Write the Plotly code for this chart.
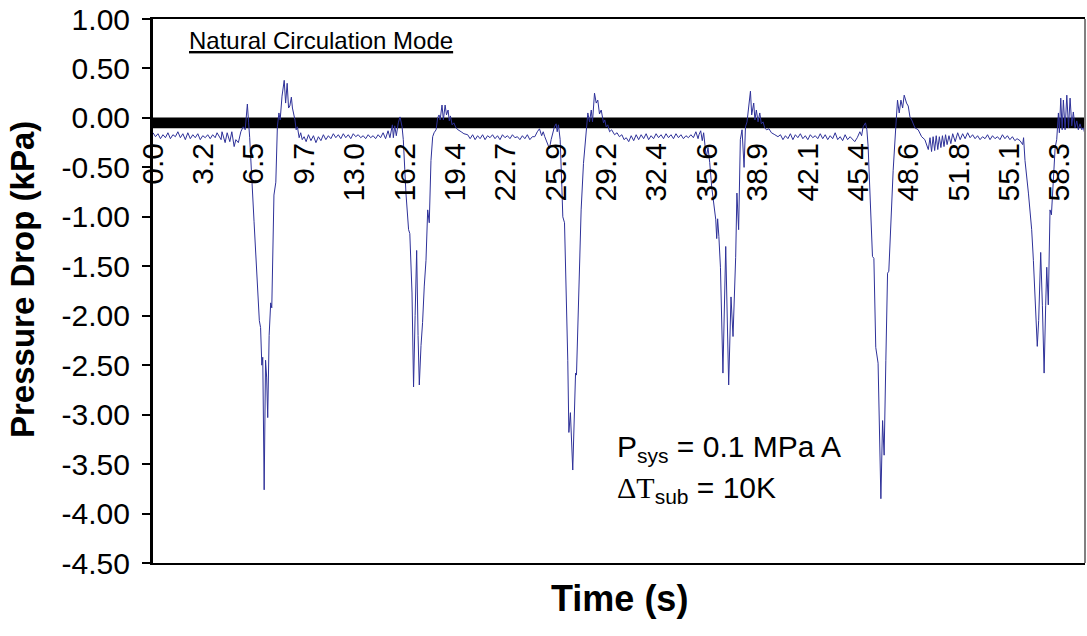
import plotly.graph_objects as go

# ---- data (time in s, pressure drop in kPa) ----
t_part1 = [0.00, 0.16, 0.32, 0.48, 0.64, 0.80, 0.96, 1.12, 1.28, 1.44, 1.60, 1.76, 1.92, 2.08, 2.24, 2.40,
           2.56, 2.72, 2.88, 3.04, 3.20, 3.36, 3.52, 3.68, 3.84, 4.00, 4.12, 4.25, 4.38, 4.44, 4.64, 4.77,
           4.94, 5.07, 5.22, 5.33, 5.49, 5.65, 5.80, 5.93, 6.01, 6.07, 6.15, 6.22, 6.50, 6.72, 6.84, 6.92,
           7.00, 7.06, 7.15, 7.24, 7.31, 7.38, 7.47, 7.57, 7.64, 7.78, 7.90, 8.00, 8.10, 8.18, 8.30, 8.44,
           8.53, 8.63, 8.72, 8.80, 8.90, 8.97, 9.05, 9.13, 9.21, 9.29, 9.40, 9.50, 9.60, 9.72]
dp_part1 = [-0.15, -0.19, -0.16, -0.21, -0.17, -0.20, -0.15, -0.21, -0.17, -0.19, -0.14, -0.20, -0.16, -0.22, -0.15, -0.21,
            -0.17, -0.20, -0.16, -0.22, -0.18, -0.20, -0.17, -0.21, -0.17, -0.20, -0.15, -0.18, -0.22, -0.14, -0.25, -0.15,
            -0.24, -0.14, -0.29, -0.22, -0.25, -0.14, -0.09, -0.12, -0.01, 0.14, -0.05, -0.20, -1.05, -1.74, -2.05, -2.12,
            -2.50, -2.42, -3.76, -2.45, -2.62, -3.03, -2.20, -1.87, -1.92, -0.78, -0.65, -0.09, 0.05, -0.02, 0.22, 0.38,
            0.15, 0.35, 0.10, 0.12, 0.21, 0.10, 0.05, -0.02, -0.12, -0.09, -0.20, -0.15, -0.22, -0.19]

t_part2 = [9.85, 10.00, 10.16, 10.32, 10.48, 10.64, 10.80, 10.96, 11.12, 11.28, 11.44, 11.60, 11.76, 11.92, 12.08, 12.24,
           12.40, 12.56, 12.72, 12.88, 13.04, 13.20, 13.36, 13.52, 13.68, 13.84, 14.00, 14.16, 14.32, 14.48, 14.64, 14.80,
           14.96, 15.12, 15.24, 15.31, 15.40, 15.46, 15.55, 15.65, 15.78, 15.89, 15.96, 16.02, 16.10, 16.27, 16.44, 16.52,
           16.66, 16.76, 16.86, 16.96, 17.05, 17.13, 17.24, 17.34, 17.45, 17.56, 17.67, 17.77, 17.88, 17.99, 18.08, 18.21,
           18.31, 18.40, 18.47, 18.59, 18.68, 18.79, 18.88, 18.98, 19.06, 19.13, 19.24, 19.35, 19.49, 19.62, 19.82, 20.00,
           20.24]
dp_part2 = [-0.24, -0.17, -0.23, -0.18, -0.25, -0.19, -0.23, -0.17, -0.22, -0.18, -0.21, -0.16, -0.20, -0.17, -0.21, -0.16,
            -0.20, -0.17, -0.21, -0.16, -0.19, -0.17, -0.20, -0.18, -0.21, -0.17, -0.20, -0.18, -0.21, -0.17, -0.20, -0.15,
            -0.21, -0.13, -0.20, -0.12, -0.07, -0.20, -0.08, -0.18, -0.05, 0.01, -0.05, -0.09, -0.22, -0.76, -1.13, -1.17,
            -1.77, -2.72, -2.00, -1.34, -2.20, -2.70, -2.30, -2.07, -1.70, -1.44, -0.93, -1.06, -0.43, -0.19, -0.15, -0.12,
            0.00, 0.03, -0.02, 0.13, -0.02, 0.13, 0.03, 0.08, -0.03, 0.02, -0.07, -0.05, -0.10, -0.12, -0.14, -0.16,
            -0.17]

t_part3 = [20.40, 20.56, 20.72, 20.88, 21.04, 21.20, 21.36, 21.52, 21.68, 21.84, 22.00, 22.16, 22.32, 22.48, 22.64, 22.80,
           22.96, 23.12, 23.28, 23.44, 23.60, 23.76, 23.92, 24.08, 24.24, 24.40, 24.56, 24.72, 24.86, 25.00, 25.10, 25.20,
           25.36, 25.50, 25.61, 25.72, 25.82, 25.93, 26.00, 26.08, 26.19, 26.30, 26.36, 26.47, 26.58, 26.68, 26.75, 26.85,
           27.00, 27.11, 27.18, 27.24, 27.39, 27.54, 27.69, 27.87, 27.97, 28.08, 28.19, 28.27, 28.40, 28.51, 28.61, 28.72,
           28.83, 28.98, 29.06, 29.15, 29.25, 29.37, 29.50, 29.69, 29.85, 30.00, 30.16, 30.30, 30.44]
dp_part3 = [-0.21, -0.17, -0.22, -0.18, -0.21, -0.17, -0.22, -0.18, -0.20, -0.17, -0.21, -0.18, -0.22, -0.17, -0.20, -0.18,
            -0.21, -0.17, -0.20, -0.19, -0.22, -0.18, -0.21, -0.17, -0.22, -0.19, -0.19, -0.14, -0.11, -0.18, -0.14, -0.19,
            -0.25, -0.31, -0.22, -0.15, -0.09, -0.06, -0.14, -0.07, -0.22, -0.70, -1.00, -1.06, -1.77, -2.45, -3.18, -2.98,
            -3.56, -2.95, -2.58, -2.60, -1.61, -0.93, -0.46, -0.09, 0.05, -0.04, 0.08, -0.04, 0.25, 0.15, 0.18, 0.04,
            0.08, -0.05, -0.02, -0.09, -0.07, -0.14, -0.12, -0.17, -0.15, -0.19, -0.17, -0.22, -0.20]

t_part4 = [30.60, 30.76, 30.92, 31.08, 31.24, 31.40, 31.56, 31.72, 31.88, 32.04, 32.20, 32.36, 32.52, 32.68, 32.84, 33.00,
           33.16, 33.32, 33.48, 33.64, 33.80, 33.96, 34.12, 34.28, 34.44, 34.60, 34.76, 34.92, 35.06, 35.12, 35.23, 35.33,
           35.42, 35.52, 35.59, 35.70, 35.81, 35.94, 36.05, 36.13, 36.20, 36.26, 36.32, 36.40, 36.50, 36.66, 36.84, 37.03,
           37.18, 37.31, 37.48, 37.56, 37.67, 37.78, 37.89, 38.02, 38.11, 38.21, 38.30, 38.43, 38.51, 38.64, 38.72, 38.81,
           38.92, 39.03, 39.13, 39.24, 39.35, 39.46, 39.62, 39.78, 40.00, 40.20]
dp_part4 = [-0.24, -0.18, -0.23, -0.17, -0.22, -0.17, -0.21, -0.16, -0.22, -0.18, -0.21, -0.16, -0.20, -0.17, -0.21, -0.16,
            -0.20, -0.17, -0.21, -0.16, -0.20, -0.17, -0.21, -0.18, -0.20, -0.17, -0.20, -0.14, -0.21, -0.17, -0.13, -0.23,
            -0.15, -0.30, -0.40, -0.30, -0.45, -0.70, -0.85, -0.93, -1.03, -1.22, -1.02, -1.20, -1.51, -2.58, -1.30, -2.70,
            -1.81, -2.21, -1.41, -0.76, -1.13, -0.22, -0.12, -0.50, -0.09, -0.04, 0.10, 0.27, 0.03, 0.15, -0.02, 0.08,
            -0.04, 0.05, -0.06, -0.04, -0.10, -0.12, -0.11, -0.15, -0.17, -0.19]

t_part5 = [40.36, 40.52, 40.68, 40.84, 41.00, 41.16, 41.32, 41.48, 41.64, 41.80, 41.96, 42.12, 42.28, 42.44, 42.60, 42.76,
           42.92, 43.08, 43.24, 43.40, 43.56, 43.72, 43.88, 44.04, 44.20, 44.36, 44.52, 44.68, 44.84, 45.00, 45.14, 45.30,
           45.47, 45.58, 45.68, 45.83, 45.92, 46.00, 46.16, 46.28, 46.37, 46.49, 46.64, 46.75, 46.82, 46.93, 47.03, 47.14,
           47.25, 47.33, 47.51, 47.61, 47.78, 47.89, 48.00, 48.11, 48.22, 48.32, 48.47, 48.58, 48.69, 48.80, 49.01, 49.22,
           49.44, 49.65, 49.87]
dp_part5 = [-0.17, -0.22, -0.18, -0.21, -0.16, -0.22, -0.17, -0.20, -0.16, -0.21, -0.18, -0.22, -0.17, -0.20, -0.18, -0.21,
            -0.16, -0.21, -0.17, -0.22, -0.18, -0.21, -0.15, -0.22, -0.19, -0.23, -0.17, -0.22, -0.19, -0.22, -0.24, -0.20,
            -0.14, -0.18, -0.09, -0.05, -0.12, -0.29, -0.93, -1.40, -1.42, -2.32, -2.48, -3.46, -3.85, -3.06, -3.41, -2.45,
            -1.57, -1.55, -0.83, -0.53, -0.09, 0.18, 0.05, 0.18, 0.10, 0.23, 0.15, 0.12, 0.01, -0.02, -0.10, -0.12,
            -0.19, -0.22, -0.32]

t_part6 = [49.98, 50.08, 50.18, 50.28, 50.38, 50.48, 50.58, 50.68, 50.78, 50.88, 50.98, 51.08, 51.20, 51.32, 51.44, 51.60,
           51.76, 51.92, 52.08, 52.24, 52.40, 52.56, 52.72, 52.88, 53.04, 53.20, 53.36, 53.52, 53.68, 53.84, 54.00, 54.16,
           54.32, 54.48, 54.64, 54.80, 54.96, 55.12, 55.28, 55.44, 55.58, 55.77, 55.94, 56.00, 56.09, 56.31, 56.52, 56.63,
           56.74, 56.80, 56.88, 56.97, 57.10, 57.21, 57.32, 57.42, 57.49, 57.59, 57.70, 57.79, 57.88, 57.96, 58.03, 58.13,
           58.24, 58.30, 58.39, 58.48, 58.56, 58.67, 58.78, 58.89, 58.99, 59.10, 59.20, 59.31, 59.42, 59.52, 59.63, 59.74,
           59.85, 59.95]
dp_part6 = [-0.20, -0.34, -0.19, -0.33, -0.18, -0.32, -0.19, -0.30, -0.18, -0.29, -0.17, -0.27, -0.18, -0.26, -0.16, -0.24,
            -0.15, -0.22, -0.16, -0.21, -0.15, -0.20, -0.17, -0.21, -0.18, -0.22, -0.19, -0.21, -0.17, -0.22, -0.18, -0.21,
            -0.19, -0.22, -0.17, -0.21, -0.18, -0.22, -0.19, -0.23, -0.21, -0.23, -0.27, -0.20, -0.43, -0.76, -1.13, -1.44,
            -1.84, -1.91, -2.31, -2.05, -1.36, -1.90, -2.58, -1.90, -1.51, -1.89, -0.93, -0.98, -0.70, -0.43, -0.30, -0.22,
            0.05, -0.15, 0.20, -0.12, 0.18, -0.12, 0.23, -0.10, 0.20, -0.08, 0.06, -0.10, -0.03, -0.12, -0.06, -0.12,
            -0.10, -0.17]

x_tick_vals = [0.0, 3.24, 6.48, 9.72, 12.96, 16.2, 19.44, 22.68, 25.92, 29.16, 32.4, 35.64, 38.88, 42.12, 45.36,
               48.6, 51.84, 55.08, 58.32]
x_tick_text = ["0.0", "3.2", "6.5", "9.7", "13.0", "16.2", "19.4", "22.7", "25.9", "29.2", "32.4", "35.6", "38.9",
               "42.1", "45.4", "48.6", "51.8", "55.1", "58.3"]
y_tick_vals = [1.0, 0.5, 0.0, -0.5, -1.0, -1.5, -2.0, -2.5, -3.0, -3.5, -4.0, -4.5]
y_tick_text = ["1.00", "0.50", "0.00", "-0.50", "-1.00", "-1.50", "-2.00", "-2.50", "-3.00", "-3.50", "-4.00", "-4.50"]

time_s = t_part1 + t_part2 + t_part3 + t_part4 + t_part5 + t_part6
dp_kpa = dp_part1 + dp_part2 + dp_part3 + dp_part4 + dp_part5 + dp_part6

FONT = "Arial, Liberation Sans, sans-serif"
W, H = 1087, 636
ML, MR, MT, MB = 153, 2, 19, 73
plot_h = H - MT - MB
plot_w = W - ML - MR

def py(px):
    return (H - MB - px) / plot_h

def px_x(px):
    return (px - ML) / plot_w

fig = go.Figure()
fig.add_trace(go.Scatter(x=time_s, y=dp_kpa, mode="lines",
                         line=dict(color="#2E3199", width=1), showlegend=False, hoverinfo="skip"))
# invisible trace hosting the crossing x-axis labels
fig.add_trace(go.Scatter(x=[time_s[0]], y=[dp_kpa[0]], xaxis="x2", mode="markers",
                         marker=dict(opacity=0), showlegend=False, hoverinfo="skip"))

fig.update_layout(
    width=W, height=H,
    margin=dict(l=ML, r=MR, t=MT, b=MB, autoexpand=False),
    paper_bgcolor="white", plot_bgcolor="white",
    font=dict(family=FONT, color="black", size=30),
    xaxis=dict(range=[0, 59.95], showgrid=False, zeroline=False, showticklabels=False, ticks="",
               showline=True, mirror=True, linecolor="black", linewidth=2),
    xaxis2=dict(range=[0, 59.95], overlaying="x", anchor="free", position=py(136), side="bottom",
                showgrid=False, zeroline=False, showline=False, ticks="",
                tickmode="array", tickvals=x_tick_vals, ticktext=x_tick_text, tickangle=-90,
                tickfont=dict(family=FONT, size=30, color="black")),
    yaxis=dict(range=[-4.5, 1.0], showgrid=False, zeroline=False,
               tickmode="array", tickvals=y_tick_vals, ticktext=y_tick_text,
               ticks="outside", ticklen=8, tickwidth=2, tickcolor="black",
               showline=True, linecolor="black", linewidth=3, mirror=False,
               tickfont=dict(family=FONT, size=30, color="black"), ticklabelstandoff=6),
    shapes=[dict(type="rect", xref="paper", x0=0, x1=1, yref="y", y0=-0.105, y1=0.005,
                 fillcolor="black", line=dict(width=0), layer="below"),
            dict(type="line", xref="paper", x0=1, x1=1, yref="paper", y0=0, y1=1,
                 line=dict(color="#808080", width=2))],
    annotations=[
        dict(text="<u>Natural Circulation Mode</u>", xref="paper", yref="paper",
             x=px_x(187), y=py(41), xanchor="left", yanchor="middle",
             showarrow=False, font=dict(family=FONT, size=24, color="black")),
        dict(text="P<sub>sys</sub> = 0.1 MPa A", xref="paper", yref="paper",
             x=px_x(615), y=py(448), xanchor="left", yanchor="middle",
             showarrow=False, font=dict(family=FONT, size=30, color="black")),
        dict(text="<span style='font-family:Liberation Serif'>\u0394T</span><sub>sub</sub> = 10K",
             xref="paper", yref="paper",
             x=px_x(615), y=py(489), xanchor="left", yanchor="middle",
             showarrow=False, font=dict(family=FONT, size=30, color="black")),
        dict(text="<b>Time (s)</b>", xref="paper", yref="paper",
             x=px_x(619), y=py(598), xanchor="center", yanchor="middle",
             showarrow=False, font=dict(family=FONT, size=36, color="black")),
        dict(text="<b>Pressure Drop (kPa)</b>", xref="paper", yref="paper", textangle=-90,
             x=px_x(22), y=py(280), xanchor="center", yanchor="middle",
             showarrow=False, font=dict(family=FONT, size=33, color="black")),
    ],
)

fig.write_html("out.html", config={"displayModeBar": False},
               post_script="document.body.style.margin='0px';")
